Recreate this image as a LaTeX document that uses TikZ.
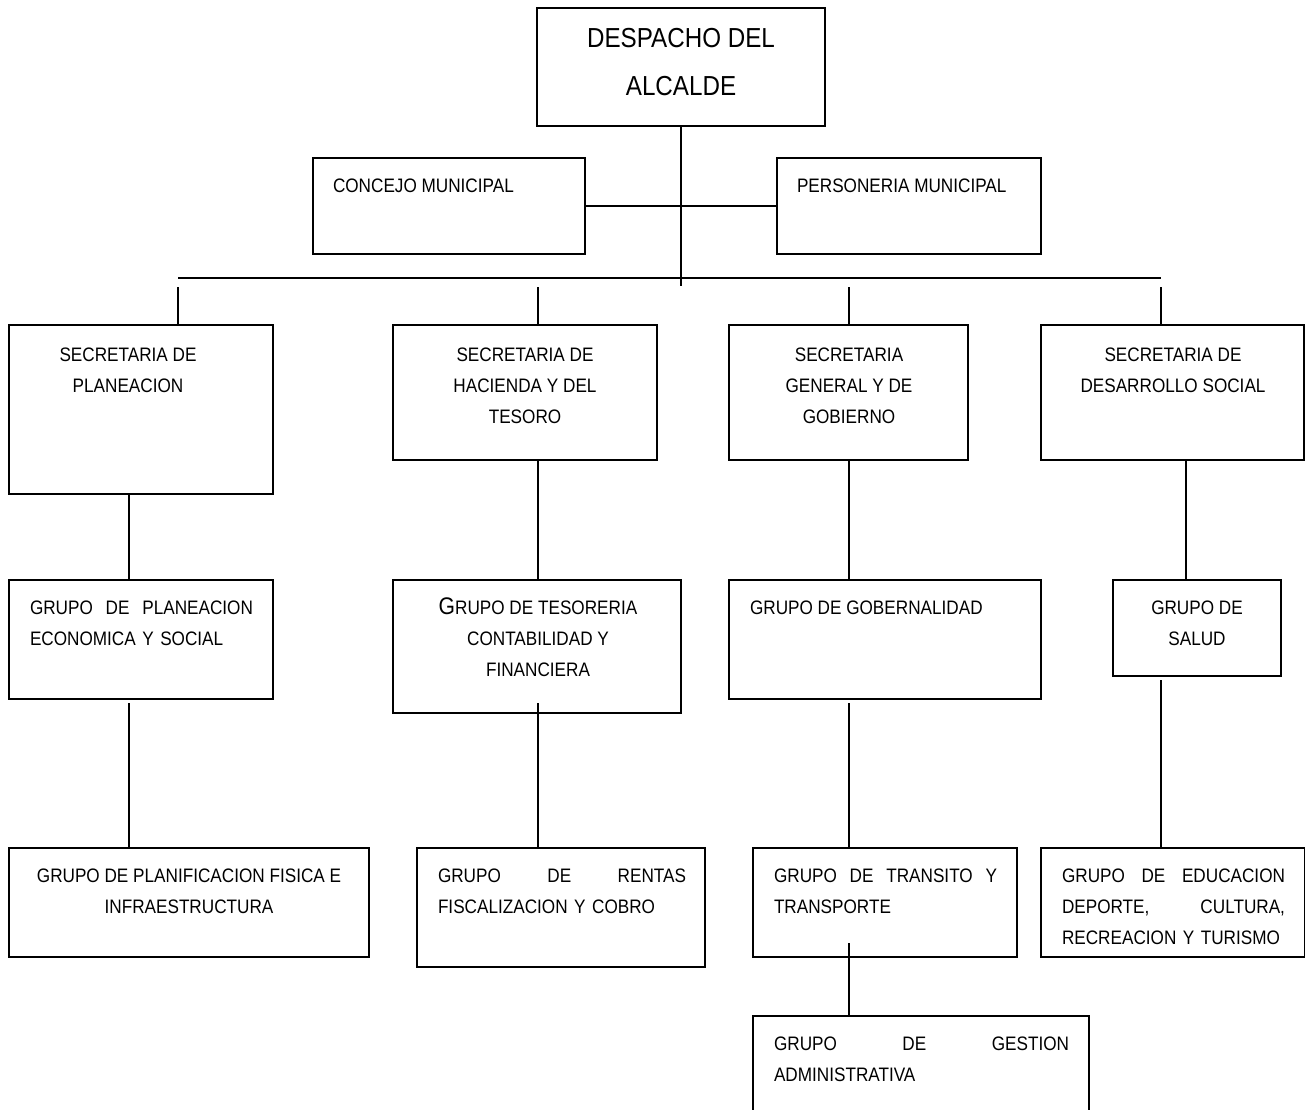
\documentclass[tikz,border=0pt]{standalone}
\usepackage{fontspec}
\setmainfont[FakeStretch=0.88]{Liberation Sans}
\begin{document}
\begin{tikzpicture}[x=1pt,y=-1pt,
  box/.style={draw, line width=2pt, inner sep=0pt, outer sep=0pt, anchor=north west},
  conn/.style={line width=1.6pt},
  txt/.style={inner sep=0pt, outer sep=0pt, font=\fontsize{19.5}{31}\selectfont},
  ctxt/.style={txt, anchor=north, align=center},
  ltxt/.style={txt, anchor=north west, align=left},
  ttl/.style={inner sep=0pt, anchor=north, align=center, font=\fontsize{27.5}{48}\selectfont}
]
\useasboundingbox (0,0) rectangle (1305,1109);
\clip (0,0) rectangle (1305,1109);

% boxes
\node[box, minimum width=288, minimum height=118] (desp) at (537,8) {};
\node[box, minimum width=272, minimum height=96] (conc) at (313,158) {};
\node[box, minimum width=264, minimum height=96] (pers) at (777,158) {};
\node[box, minimum width=264, minimum height=169] (sp) at (9,325) {};
\node[box, minimum width=264, minimum height=135] (sh) at (393,325) {};
\node[box, minimum width=239, minimum height=135] (sg) at (729,325) {};
\node[box, minimum width=263, minimum height=135] (sd) at (1041,325) {};
\node[box, minimum width=264, minimum height=119] (gp) at (9,580) {};
\node[box, minimum width=288, minimum height=133] (gt) at (393,580) {};
\node[box, minimum width=312, minimum height=119] (gg) at (729,580) {};
\node[box, minimum width=168, minimum height=96] (gs) at (1113,580) {};
\node[box, minimum width=360, minimum height=109] (gpf) at (9,848) {};
\node[box, minimum width=288, minimum height=119] (gr) at (417,848) {};
\node[box, minimum width=264, minimum height=109] (gtr) at (753,848) {};
\node[box, minimum width=264, minimum height=109] (ge) at (1041,848) {};
\node[box, minimum width=336, minimum height=130] (gad) at (753,1016) {};

% texts
\node[ttl] (despt) at (681,28) {DESPACHO DEL\\ALCALDE};
\node[ltxt] (conct) at (333,179) {CONCEJO MUNICIPAL};
\node[ltxt] (perst) at (797,179) {PERSONERIA MUNICIPAL};
\node[ctxt] (spt) at (128,348) {SECRETARIA DE\\PLANEACION};
\node[ctxt] (sht) at (525,348) {SECRETARIA DE\\HACIENDA Y DEL\\TESORO};
\node[ctxt] (sgt) at (849,348) {SECRETARIA\\GENERAL Y DE\\GOBIERNO};
\node[ctxt] (sdt) at (1173,348) {SECRETARIA DE\\DESARROLLO SOCIAL};
\node[ltxt, text width=223] (gpt) at (30,601) {GRUPO\hfill DE\hfill PLANEACION\\ECONOMICA Y SOCIAL};
\node[ctxt] (gtt) at (538,598) {{\fontsize{24}{31}\selectfont G}RUPO DE TESORERIA\\CONTABILIDAD Y\\FINANCIERA};
\node[ltxt] (ggt) at (750,601) {GRUPO DE GOBERNALIDAD};
\node[ctxt] (gst) at (1197,601) {GRUPO DE\\SALUD};
\node[ctxt] (gpft) at (189,869) {GRUPO DE PLANIFICACION FISICA E\\INFRAESTRUCTURA};
\node[ltxt, text width=248] (grt) at (438,869) {GRUPO\hfill DE\hfill RENTAS\\FISCALIZACION Y COBRO};
\node[ltxt, text width=223] (gtrt) at (774,869) {GRUPO\hfill DE\hfill TRANSITO\hfill Y\\TRANSPORTE};
\node[ltxt, text width=223] (get) at (1062,869) {GRUPO\hfill DE\hfill EDUCACION\\DEPORTE,\hfill CULTURA,\\RECREACION Y TURISMO};
\node[ltxt, text width=295] (gadt) at (774,1037) {GRUPO\hfill DE\hfill GESTION\\ADMINISTRATIVA};

% connectors
\coordinate (cbot) at (681,286);
\draw[conn] (desp.south) -- (cbot);
\draw[conn] (conc.east) -- (pers.west);
\coordinate (barL) at (178,278);
\coordinate (barR) at (1161,278);
\draw[conn] (barL) -- (barR);
\coordinate (d1) at (178,287);
\coordinate (d2) at (538,287);
\coordinate (d3) at (849,287);
\coordinate (d4) at (1161,287);
\draw[conn] (d1) -- (d1 |- sp.north);
\draw[conn] (d2) -- (d2 |- sh.north);
\draw[conn] (d3) -- (d3 |- sg.north);
\draw[conn] (d4) -- (d4 |- sd.north);
\coordinate (e1) at (129,494);
\coordinate (e2) at (538,460);
\coordinate (e3) at (849,460);
\coordinate (e4) at (1186,460);
\draw[conn] (e1) -- (e1 |- gp.north);
\draw[conn] (e2) -- (e2 |- gt.north);
\draw[conn] (e3) -- (e3 |- gg.north);
\draw[conn] (e4) -- (e4 |- gs.north);
\coordinate (f1) at (129,703);
\coordinate (f2) at (538,703);
\coordinate (f3) at (849,703);
\coordinate (f4) at (1161,680);
\draw[conn] (f1) -- (f1 |- gpf.north);
\draw[conn] (f2) -- (f2 |- gr.north);
\draw[conn] (f3) -- (f3 |- gtr.north);
\draw[conn] (f4) -- (f4 |- ge.north);
\coordinate (g1) at (849,943);
\draw[conn] (g1) -- (g1 |- gad.north);
\end{tikzpicture}
\end{document}
